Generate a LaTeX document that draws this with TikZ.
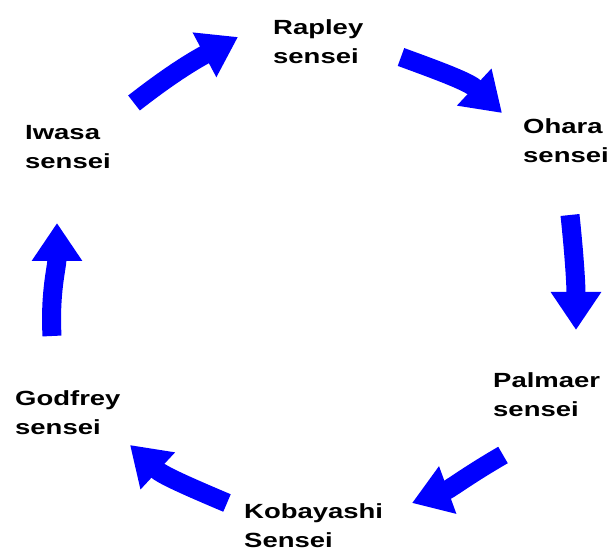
\documentclass[tikz,border=0pt]{standalone}
\usepackage{fontspec}
\newfontfamily\lblfont[FakeStretch=1.34]{Liberation Sans}
\usetikzlibrary{arrows.meta}
\definecolor{cycleblue}{RGB}{0,0,255}
\tikzset{
  sensei/.style={anchor=north west, inner sep=0pt, align=left,
    font=\lblfont\bfseries\fontsize{20.5}{29}\selectfont},
  flow/.style={draw=cycleblue, line width=19pt,
    -{Triangle[length=38pt 0 0,width=48pt 0 0]}}
}

\begin{document}
\begin{tikzpicture}[x=1pt, y=1pt]
\useasboundingbox (0,0) rectangle (611,552);
\node[sensei] (rapley) at (273,533) {Rapley\\sensei};
\node[sensei] (ohara) at (523,434) {Ohara\\sensei};
\node[sensei] (palmaer) at (493,180) {Palmaer\\sensei};
\node[sensei] (kobayashi) at (244,49) {Kobayashi\\Sensei};
\node[sensei] (godfrey) at (15,162) {Godfrey\\sensei};
\node[sensei] (iwasa) at (25,427) {Iwasa\\sensei};

\coordinate (iwasa-out) at (134,449);
\coordinate (rapley-in) at (238,515);
\coordinate (rapley-out) at (401,495);
\coordinate (ohara-in) at (502,439);
\coordinate (ohara-out) at (570,337);
\coordinate (palmaer-in) at (576,222);
\coordinate (palmaer-out) at (503,97);
\coordinate (kobayashi-in) at (412,49);
\coordinate (kobayashi-out) at (227,49);
\coordinate (godfrey-in) at (130,107);
\coordinate (godfrey-out) at (52,216);
\coordinate (iwasa-in) at (57,329);

\draw[flow] (iwasa-out) to[out=38, in=208] (rapley-in);
\draw[flow] (rapley-out) to[out=-20, in=137] (ohara-in);
\draw[flow] (ohara-out) to[out=-84, in=90] (palmaer-in);
\draw[flow] (palmaer-out) to[out=210, in=20] (kobayashi-in);
\draw[flow] (kobayashi-out) to[out=157, in=-43] (godfrey-in);
\draw[flow] (godfrey-out) to[out=93, in=-90] (iwasa-in);
\end{tikzpicture}
\end{document}
